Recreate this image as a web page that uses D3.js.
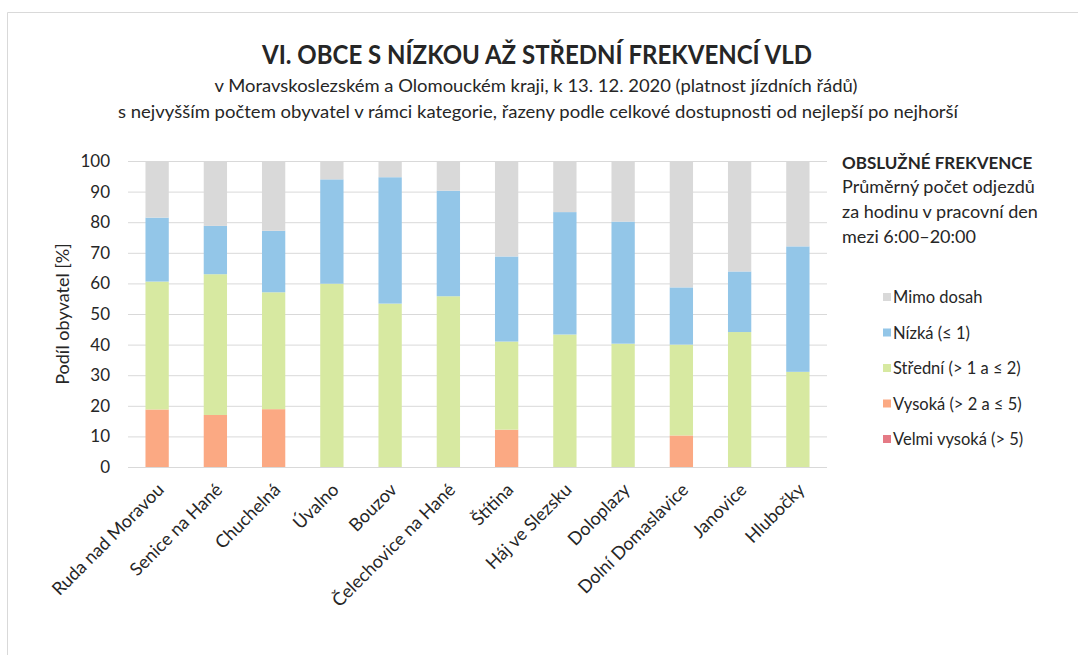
<!DOCTYPE html>
<html>
<head>
<meta charset="utf-8">
<script src="https://cdn.jsdelivr.net/npm/d3@7"></script>
<style>
  body { margin: 0; background: #fff; }
  text { font-family: Lato, "Open Sans", sans-serif; fill: #262626; }
</style>
</head>
<body>
<svg id="chart" width="1078" height="655"></svg>
<script>
// data (percent of inhabitants)
const obce = ["Ruda nad Moravou", "Senice na Hané", "Chuchelná", "Úvalno", "Bouzov",
  "Čelechovice na Hané", "Štítina", "Háj ve Slezsku", "Doloplazy", "Dolní Domaslavice",
  "Janovice", "Hlubočky"];
const velmiVysoka = [0, 0, 0, 0, 0, 0, 0, 0, 0, 0, 0, 0];
const vysoka = [18.8, 17.0, 18.9, 0, 0, 0, 12.2, 0, 0, 10.3, 0, 0];
const stredni = [41.8, 46.0, 38.2, 59.9, 53.4, 55.8, 28.8, 43.3, 40.3, 29.7, 44.1, 31.1];
const nizka = [20.9, 15.8, 20.1, 34.1, 41.3, 34.5, 27.8, 40.0, 39.9, 18.7, 19.8, 41.0];
const mimoDosah = [18.5, 21.2, 22.8, 6.0, 5.3, 9.7, 31.2, 16.7, 19.8, 41.3, 36.1, 27.9];
const yTicks = [0, 10, 20, 30, 40, 50, 60, 70, 80, 90, 100];

const keys = ["velmi", "vysoka", "stredni", "nizka", "mimo"];
const colors = { velmi: "#e57a85", vysoka: "#fba983", stredni: "#d7e9a1", nizka: "#93c6e8", mimo: "#d9d9d9" };
const legendItems = [
  ["mimo", "Mimo dosah"],
  ["nizka", "Nízká (≤ 1)"],
  ["stredni", "Střední (> 1 a ≤ 2)"],
  ["vysoka", "Vysoká (> 2 a ≤ 5)"],
  ["velmi", "Velmi vysoká (> 5)"]
];

const rows = obce.map((o, i) => ({
  obec: o, velmi: velmiVysoka[i], vysoka: vysoka[i], stredni: stredni[i], nizka: nizka[i], mimo: mimoDosah[i]
}));

const svg = d3.select("#chart");

// frame of the original image
svg.append("path").attr("d", "M7.5,655 V12.5 H1078").attr("fill", "none").attr("stroke", "#d9d9d9");

const pLeft = 128, pRight = 827, pTop = 161, pBottom = 467;

const x = d3.scaleBand().domain(obce).range([pLeft, pRight]).paddingInner(0.6).paddingOuter(0.3);
const y = d3.scaleLinear().domain([0, 100]).range([pBottom, pTop]);

// grid
svg.append("g").selectAll("line").data(yTicks).enter().append("line")
  .attr("x1", pLeft).attr("x2", pRight)
  .attr("y1", d => y(d) + 0.5).attr("y2", d => y(d) + 0.5)
  .attr("stroke", "#d9d9d9").attr("stroke-width", 1);

// stacked bars
const series = d3.stack().keys(keys)(rows);
svg.append("g").selectAll("g").data(series).enter().append("g")
  .attr("fill", d => colors[d.key])
  .selectAll("rect").data(d => d).enter().append("rect")
  .attr("x", d => x(d.data.obec))
  .attr("width", x.bandwidth())
  .attr("y", d => y(d[1]))
  .attr("height", d => y(d[0]) - y(d[1]));

// y axis labels
const yAxis = d3.axisLeft(y).tickValues(yTicks).tickSize(0).tickPadding(18);
const yg = svg.append("g").attr("transform", `translate(${pLeft},0)`).call(yAxis);
yg.select(".domain").remove();
yg.selectAll("text").style("font-size", "17px").style("font-family", "Lato, sans-serif").attr("fill", "#262626");

svg.append("text")
  .attr("transform", `translate(69,${(pTop + pBottom) / 2}) rotate(-90)`)
  .attr("text-anchor", "middle").style("font-size", "18px")
  .text("Podíl obyvatel [%]");

// x labels
svg.append("g").selectAll("text").data(obce).enter().append("text")
  .attr("transform", d => `translate(${x(d) + x.bandwidth() / 2 + 8},${pBottom + 24}) rotate(-45)`)
  .attr("text-anchor", "end").style("font-size", "18px")
  .text(d => d);

// titles
svg.append("text").attr("x", 537).attr("y", 64).attr("text-anchor", "middle")
  .attr("textLength", 550).attr("lengthAdjust", "spacingAndGlyphs")
  .style("font-size", "26px").style("font-weight", "bold").attr("fill", "#000")
  .text("VI. OBCE S NÍZKOU AŽ STŘEDNÍ FREKVENCÍ VLD");
svg.append("text").attr("x", 536).attr("y", 92).attr("text-anchor", "middle")
  .attr("textLength", 643).attr("lengthAdjust", "spacingAndGlyphs")
  .style("font-size", "17px")
  .text("v Moravskoslezském a Olomouckém kraji, k 13. 12. 2020 (platnost jízdních řádů)");
svg.append("text").attr("x", 538).attr("y", 118).attr("text-anchor", "middle")
  .attr("textLength", 840).attr("lengthAdjust", "spacingAndGlyphs")
  .style("font-size", "17px")
  .text("s nejvyšším počtem obyvatel v rámci kategorie, řazeny podle celkové dostupnosti od nejlepší po nejhorší");

// legend header
svg.append("text").attr("x", 842).attr("y", 169).style("font-size", "17px").style("font-weight", "bold")
  .attr("fill", "#000").text("OBSLUŽNÉ FREKVENCE");
const noteLines = ["Průměrný počet odjezdů", "za hodinu v pracovní den", "mezi 6:00–20:00"];
svg.append("g").selectAll("text").data(noteLines).enter().append("text")
  .attr("x", 842).attr("y", (d, i) => 193 + i * 25).style("font-size", "18px").text(d => d);

// legend
const lg = svg.append("g").selectAll("g").data(legendItems).enter().append("g")
  .attr("transform", (d, i) => `translate(883,${297 + i * 35.5})`);
lg.append("rect").attr("x", 0).attr("y", -4).attr("width", 8).attr("height", 8).attr("fill", d => colors[d[0]]);
lg.append("text").attr("x", 10).attr("y", 6).style("font-size", "16.5px").text(d => d[1]);
</script>
</body>
</html>
